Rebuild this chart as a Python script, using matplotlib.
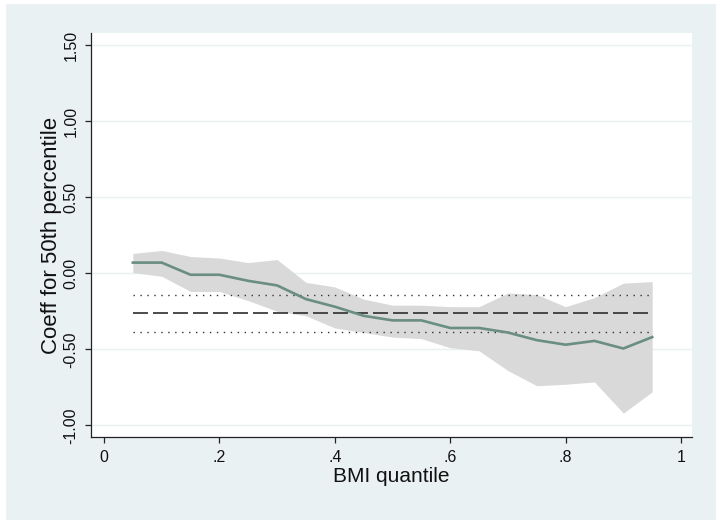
import numpy as np
import matplotlib
matplotlib.use("Agg")
import matplotlib.pyplot as plt
from matplotlib.patches import Rectangle

# Quantile regression coefficients by BMI quantile
quantiles = [0.05, 0.10, 0.15, 0.20, 0.25, 0.30, 0.35, 0.40, 0.45, 0.50,
             0.55, 0.60, 0.65, 0.70, 0.75, 0.80, 0.85, 0.90, 0.95]
coef = [0.07, 0.07, -0.01, -0.01, -0.05, -0.08, -0.17, -0.22, -0.28, -0.31,
        -0.31, -0.36, -0.36, -0.39, -0.44, -0.47, -0.445, -0.495, -0.42]
ci_upper = [0.13, 0.15, 0.11, 0.10, 0.07, 0.09, -0.06, -0.09, -0.17, -0.21,
            -0.21, -0.22, -0.22, -0.13, -0.14, -0.22, -0.16, -0.065, -0.055]
ci_lower = [0.005, -0.02, -0.12, -0.12, -0.18, -0.25, -0.28, -0.36, -0.39, -0.42,
            -0.43, -0.49, -0.51, -0.64, -0.74, -0.73, -0.715, -0.92, -0.78]

# OLS estimate and its confidence interval
ols_coef = -0.26
ols_lower = -0.385
ols_upper = -0.14

xticks = [0, 0.2, 0.4, 0.6, 0.8, 1.0]
xtick_labels = ["0", ".2", ".4", ".6", ".8", "1"]
yticks = [-1.0, -0.5, 0.0, 0.5, 1.0, 1.5]
ytick_labels = ["-1.00", "-0.50", "0.00", "0.50", "1.00", "1.50"]

bg = "#E9F1F3"
tick_font = ["Liberation Sans Narrow", "Liberation Sans"]

fig = plt.figure(figsize=(7.16, 5.2), dpi=100, facecolor=bg)
ax = fig.add_axes([91 / 716, 83 / 520, 601 / 716, 404 / 520])
ax.set_facecolor("white")

# white strips at the edges of the exported image
fig.add_artist(Rectangle((0, 1 - 3 / 520), 1, 3 / 520, transform=fig.transFigure,
                         color="white", zorder=0))
fig.add_artist(Rectangle((0, 0), 5 / 716, 1, transform=fig.transFigure,
                         color="white", zorder=0))

for y in yticks:
    ax.axhline(y, color="#EAF1F2", lw=1.0, zorder=0)

ax.fill_between(quantiles, ci_lower, ci_upper, color="#D9D9D9", lw=0, zorder=1)

x0, x1 = quantiles[0], quantiles[-1]
ax.plot([x0, x1], [ols_upper, ols_upper], color="#333333", lw=1.0,
        linestyle=(0, (1, 4)), zorder=2)
ax.plot([x0, x1], [ols_lower, ols_lower], color="#333333", lw=1.0,
        linestyle=(0, (1, 4)), zorder=2)
ax.plot([x0, x1], [ols_coef, ols_coef], color="#2e2e2e", lw=1.2,
        linestyle=(0, (9, 3)), zorder=2)

ax.plot(quantiles, coef, color="#6A8E7F", lw=1.9, zorder=3)

ax.set_xlim(-0.0225, 1.019)
ax.set_ylim(-1.077, 1.58)

ax.set_xticks(xticks)
ax.set_xticklabels(xtick_labels, family=tick_font, fontsize=11.5)
ax.set_yticks(yticks)
ax.set_yticklabels(ytick_labels, family=tick_font, fontsize=11.5,
                   rotation=90, va="center")

for s in ["top", "right"]:
    ax.spines[s].set_visible(False)
for s in ["left", "bottom"]:
    ax.spines[s].set_color("#222222")
    ax.spines[s].set_linewidth(0.9)
ax.tick_params(axis="both", length=4, width=0.9, color="#222222",
               labelcolor="#111111")
ax.tick_params(axis="x", pad=5)
ax.tick_params(axis="y", pad=5)

ax.set_xlabel("BMI quantile", family="Liberation Sans", fontsize=15,
              color="#111111", labelpad=2)
ax.set_ylabel("Coeff for 50th percentile", family="Liberation Sans", fontsize=16,
              color="#111111", labelpad=1)

fig.savefig("out.png", dpi=100, facecolor=bg)
